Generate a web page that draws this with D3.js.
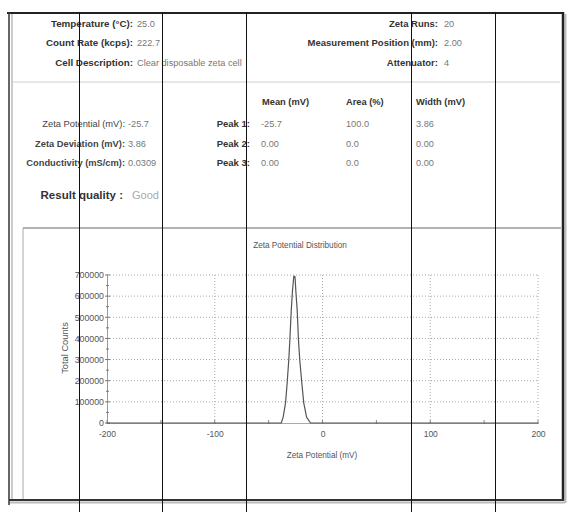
<!DOCTYPE html>
<html>
<head>
<meta charset="utf-8">
<script src="https://cdn.jsdelivr.net/npm/d3@7/dist/d3.min.js"></script>
<style>
  html, body { margin: 0; padding: 0; background: #fff; }
  svg { display: block; }
  text { font-family: "Liberation Sans", Arial, sans-serif; }
</style>
</head>
<body>
<svg id="chart" width="568" height="512"></svg>
<script>
// ---------- data ----------
const infoLeftLabels  = ["Temperature (°C):", "Count Rate (kcps):", "Cell Description:"];
const infoLeftValues  = ["25.0", "222.7", "Clear disposable zeta cell"];
const infoRightLabels = ["Zeta Runs:", "Measurement Position (mm):", "Attenuator:"];
const infoRightValues = ["20", "2.00", "4"];
const zetaLabels      = ["Zeta Potential (mV):", "Zeta Deviation (mV):", "Conductivity (mS/cm):"];
const zetaValues      = ["-25.7", "3.86", "0.0309"];
const peakHeaders     = ["Mean (mV)", "Area (%)", "Width (mV)"];
const peakLabels      = ["Peak 1:", "Peak 2:", "Peak 3:"];
const peakMean        = ["-25.7", "0.00", "0.00"];
const peakArea        = ["100.0", "0.0", "0.0"];
const peakWidth       = ["3.86", "0.00", "0.00"];
const qualityLabel    = "Result quality :";
const qualityValue    = "Good";

const chartTitle = "Zeta Potential Distribution";
const xTitle = "Zeta Potential (mV)";
const yTitle = "Total Counts";
const xTicks = [-200, -100, 0, 100, 200];
const xMinorTicks = [-150, -50, 50, 150];
const yTicks = [0, 100000, 200000, 300000, 400000, 500000, 600000, 700000];
const yMinorTicks = [50000, 150000, 250000, 350000, 450000, 550000, 650000];

// distribution
const zetaMV      = [-200, -38.3, -36.5, -34.3, -32.8, -31.3, -30.3, -29.0, -27.8, -26.6, -25.5, -24.8, -23.5, -22.3, -21.1, -19.2, -17.4, -14.8, -11.1, 200];
const totalCounts = [0, 0, 28000, 95000, 189000, 298000, 393000, 534000, 629000, 695000, 692000, 629000, 534000, 393000, 298000, 189000, 95000, 28000, 0, 0];

// ---------- drawing ----------
const svg = d3.select("#chart");
svg.append("rect").attr("width", 568).attr("height", 512).attr("fill", "#fff");

// frame and separators
const frame = svg.append("g");
frame.append("line").attr("x1", 13).attr("x2", 560).attr("y1", 82).attr("y2", 82).attr("stroke", "#d0d0d0").attr("stroke-width", 1.2);
frame.append("line").attr("x1", 23).attr("x2", 561).attr("y1", 228).attr("y2", 228).attr("stroke", "#999").attr("stroke-width", 1.5);
frame.append("line").attr("x1", 23).attr("x2", 23).attr("y1", 228).attr("y2", 500).attr("stroke", "#aaa").attr("stroke-width", 1);
// shadows
frame.append("line").attr("x1", 10).attr("x2", 565).attr("y1", 502.5).attr("y2", 502.5).attr("stroke", "#bbb").attr("stroke-width", 2);
frame.append("line").attr("x1", 565.5).attr("x2", 565.5).attr("y1", 14).attr("y2", 503).attr("stroke", "#bbb").attr("stroke-width", 2);
frame.append("line").attr("x1", 7).attr("x2", 564).attr("y1", 13).attr("y2", 13).attr("stroke", "#222").attr("stroke-width", 2);
frame.append("line").attr("x1", 9).attr("x2", 9).attr("y1", 12).attr("y2", 505).attr("stroke", "#333").attr("stroke-width", 1.5);
frame.append("line").attr("x1", 12).attr("x2", 12).attr("y1", 14).attr("y2", 500).attr("stroke", "#999").attr("stroke-width", 1);
frame.append("line").attr("x1", 563).attr("x2", 563).attr("y1", 12).attr("y2", 501).attr("stroke", "#222").attr("stroke-width", 2.5);
frame.append("line").attr("x1", 9).attr("x2", 564).attr("y1", 500).attr("y2", 500).attr("stroke", "#333").attr("stroke-width", 2);

// info text
const txt = svg.append("g");
function label(x, y, s, size, anchor, color, weight, family) {
  txt.append("text").attr("x", x).attr("y", y).attr("font-size", size)
    .attr("text-anchor", anchor).attr("fill", color).attr("font-weight", weight)
    .attr("font-family", family || null).text(s);
}
const rowsTop = [26.5, 45.5, 65.5];
infoLeftLabels.forEach((s, i) => label(133, rowsTop[i], s, 9.8, "end", "#333", "bold"));
infoLeftValues.forEach((s, i) => label(137, rowsTop[i], s, 9.2, "start", "#777", "normal"));
infoRightLabels.forEach((s, i) => label(438, rowsTop[i], s, 9.5, "end", "#333", "bold"));
infoRightValues.forEach((s, i) => label(444, rowsTop[i], s, 9.2, "start", "#777", "normal"));

const hdrX = [262, 346, 416];
peakHeaders.forEach((s, i) => label(hdrX[i], 104.5, s, 9.3, "start", "#333", "bold"));
const rowsMid = [127, 147, 166];
zetaLabels.forEach((s, i) => label(125, rowsMid[i], s, 9.3, "end", "#444", i === 0 ? "normal" : "bold"));
zetaValues.forEach((s, i) => label(128, rowsMid[i], s, 9.2, "start", "#777", "normal"));
peakLabels.forEach((s, i) => label(250, rowsMid[i], s, 9.5, "end", "#333", "bold"));
peakMean.forEach((s, i) => label(261, rowsMid[i], s, 9.2, "start", "#777", "normal"));
peakArea.forEach((s, i) => label(346, rowsMid[i], s, 9.2, "start", "#777", "normal"));
peakWidth.forEach((s, i) => label(416, rowsMid[i], s, 9.2, "start", "#777", "normal"));
label(123, 199, qualityLabel, 11.5, "end", "#333", "bold");
label(132, 199, qualityValue, 11, "start", "#aaa", "normal", "'Liberation Serif', serif");

// chart
const x = d3.scaleLinear().domain([-200, 200]).range([107, 538]);
const y = d3.scaleLinear().domain([0, 700000]).range([423, 275]);
const g = svg.append("g");

// grid
g.selectAll("line.hg").data(yTicks.filter(d => d > 0)).join("line")
  .attr("x1", x(-200)).attr("x2", x(200)).attr("y1", d => y(d)).attr("y2", d => y(d))
  .attr("stroke", "#aaa").attr("stroke-width", 1).attr("stroke-dasharray", "1,2");
g.selectAll("line.vg").data(xTicks.filter(d => d > -200)).join("line")
  .attr("x1", d => x(d)).attr("x2", d => x(d)).attr("y1", y(0)).attr("y2", y(700000))
  .attr("stroke", "#aaa").attr("stroke-width", 1).attr("stroke-dasharray", "1,2");

// axes
const xAxis = d3.axisBottom(x).tickValues(xTicks).tickSize(0).tickPadding(8)
  .tickFormat(d => String(d));
const gx = g.append("g").attr("transform", `translate(0,${y(0)})`).call(xAxis);
gx.select(".domain").attr("stroke", "#aaa");
gx.selectAll("text").attr("font-size", 8.5).attr("fill", "#555").attr("font-family", "'Liberation Sans', Arial, sans-serif");
g.selectAll("line.xt").data(xTicks.concat(xMinorTicks)).join("line")
  .attr("x1", d => x(d)).attr("x2", d => x(d)).attr("y1", y(0) - 3).attr("y2", y(0) + 1)
  .attr("stroke", "#888");

const yAxis = d3.axisLeft(y).tickValues(yTicks).tickSize(0).tickPadding(3)
  .tickFormat(d => String(d));
const gy = g.append("g").attr("transform", `translate(${x(-200)},0)`).call(yAxis);
gy.select(".domain").attr("stroke", "#999");
gy.selectAll("text").attr("font-size", 8.8).attr("fill", "#555").attr("font-family", "'Liberation Sans', Arial, sans-serif");
g.selectAll("line.yt").data(yTicks).join("line")
  .attr("x1", x(-200) - 2).attr("x2", x(-200) + 3).attr("y1", d => y(d)).attr("y2", d => y(d))
  .attr("stroke", "#777");
g.selectAll("line.ymt").data(yMinorTicks).join("line")
  .attr("x1", x(-200) - 1).attr("x2", x(-200) + 2).attr("y1", d => y(d)).attr("y2", d => y(d))
  .attr("stroke", "#777");

// curve
const pts = zetaMV.map((v, i) => [v, totalCounts[i]]);
g.append("path").datum(pts)
  .attr("d", d3.line().x(d => x(d[0])).y(d => y(d[1])))
  .attr("fill", "none").attr("stroke", "#555").attr("stroke-width", 1.2).attr("stroke-linejoin", "round");

// titles
g.append("text").attr("x", 300).attr("y", 248).attr("text-anchor", "middle")
  .attr("font-size", 8.2).attr("fill", "#555").text(chartTitle);
g.append("text").attr("x", 322).attr("y", 458).attr("text-anchor", "middle")
  .attr("font-size", 8.2).attr("fill", "#555").text(xTitle);
g.append("text").attr("transform", "translate(68,348) rotate(-90)").attr("text-anchor", "middle")
  .attr("font-size", 9.3).attr("fill", "#555").text(yTitle);

// overlay vertical black lines
const overlayX = [79, 162, 246, 411, 495];
svg.append("g").selectAll("line").data(overlayX).join("line")
  .attr("x1", d => d + 0.5).attr("x2", d => d + 0.5).attr("y1", 12).attr("y2", 512)
  .attr("stroke", "#111").attr("stroke-width", 1);
</script>
</body>
</html>
